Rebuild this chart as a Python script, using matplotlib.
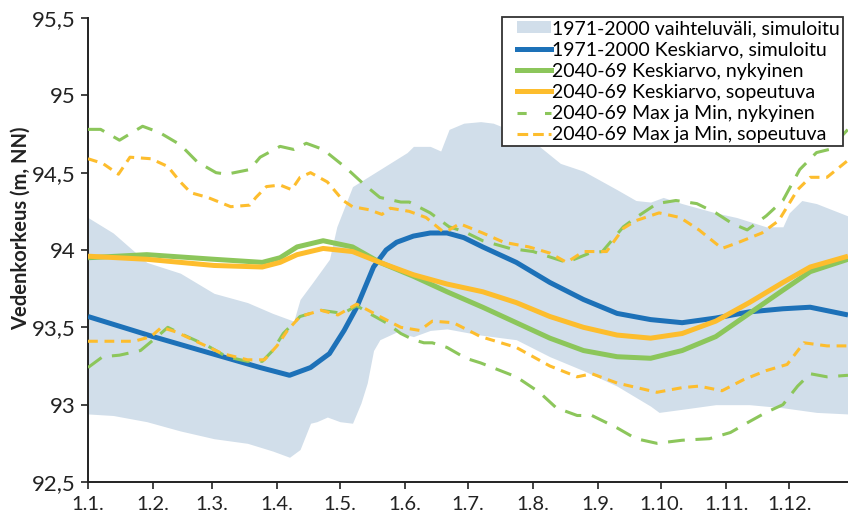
import matplotlib
matplotlib.use("Agg")
import matplotlib.pyplot as plt
from matplotlib.patches import Patch
from matplotlib.lines import Line2D
from matplotlib.legend_handler import HandlerLine2D, HandlerPatch
import numpy as np

plt.rcParams['font.family'] = ['Lato', 'DejaVu Sans']

# day of year (0 = 1.1.) and water level (m, NN)
band_days = [0, 12, 28, 44, 60, 76, 88, 98, 101, 107, 115, 118.5, 126, 139, 152, 155, 163, 168,
             172, 179, 187, 193, 204, 215, 225, 236, 244, 252, 261, 268, 274, 283, 299, 309,
             323, 331, 334, 340, 347, 362]
band_upper = [94.21, 94.11, 93.92, 93.85, 93.72, 93.66, 93.59, 93.54, 93.68, 93.79, 93.94, 94.15,
              94.41, 94.52, 94.63, 94.67, 94.67, 94.64, 94.78, 94.82, 94.83, 94.82, 94.76, 94.67,
              94.56, 94.51, 94.45, 94.39, 94.32, 94.31, 94.34, 94.30, 94.24, 94.21, 94.15, 94.15,
              94.24, 94.32, 94.30, 94.22]
low_days = [0, 12, 28, 44, 60, 76, 88, 96, 101, 106, 109, 114, 120, 126, 130, 133, 136, 139, 147,
            155, 163, 171, 187, 204, 220, 236, 252, 268, 272, 283, 299, 315, 331, 347, 362]
band_lower = [92.94, 92.93, 92.89, 92.83, 92.78, 92.75, 92.70, 92.66, 92.71, 92.88, 92.89, 92.92,
              92.89, 92.88, 93.01, 93.14, 93.35, 93.42, 93.47, 93.44, 93.48, 93.49, 93.45, 93.42,
              93.31, 93.22, 93.12, 92.99, 92.95, 92.97, 93.00, 93.00, 92.98, 92.95, 92.94]

mean_days = [0, 31, 59, 82, 96, 106, 115, 122, 128, 136, 142, 147, 155, 163, 171, 179, 188, 204,
             220, 236, 252, 268, 283, 299, 315, 331, 344, 362]
mean_1971 = [93.57, 93.44, 93.33, 93.24, 93.19, 93.24, 93.33, 93.48, 93.63, 93.89, 94.00, 94.05,
             94.09, 94.11, 94.11, 94.08, 94.02, 93.92, 93.79, 93.68, 93.59, 93.55, 93.53, 93.56,
             93.60, 93.62, 93.63, 93.58]

fut_days = [0, 28, 60, 83, 91.5, 99.6, 112, 126, 139, 155, 171, 188, 204, 220, 236, 252, 268, 283,
            299, 315, 331, 344, 362]
mean_nyk = [93.95, 93.97, 93.94, 93.92, 93.95, 94.02, 94.06, 94.02, 93.92, 93.83, 93.73, 93.63,
            93.53, 93.43, 93.35, 93.31, 93.30, 93.35, 93.44, 93.59, 93.74, 93.86, 93.94]
mean_sop = [93.96, 93.94, 93.90, 93.89, 93.92, 93.97, 94.01, 93.99, 93.92, 93.84, 93.78, 93.73,
            93.66, 93.57, 93.50, 93.45, 93.43, 93.46, 93.54, 93.66, 93.79, 93.89, 93.96]

max_nyk_days = [0, 6, 15, 26, 34, 44, 52, 61, 66, 77, 82, 91.5, 98, 104, 112, 123, 131, 139, 149,
                153, 163, 172, 179, 188, 201, 212, 228, 239, 245, 255, 261, 271, 280, 290, 299,
                307, 314, 323, 331, 339, 347, 353, 362]
max_nyk = [94.78, 94.78, 94.71, 94.80, 94.76, 94.68, 94.57, 94.50, 94.49, 94.52, 94.60, 94.67,
           94.65, 94.69, 94.65, 94.53, 94.43, 94.34, 94.31, 94.31, 94.24, 94.15, 94.12, 94.06,
           94.01, 93.99, 93.92, 93.98, 93.99, 94.15, 94.21, 94.30, 94.32, 94.30, 94.24, 94.17,
           94.13, 94.22, 94.32, 94.52, 94.63, 94.65, 94.78]

max_sop_days = [0, 7, 14.5, 20, 30, 38, 44, 49, 57, 68, 77, 80, 85, 91.5, 97, 101, 106, 114, 121.5,
                126, 134, 140, 144, 153, 161, 169, 172, 177, 188, 198, 210, 220, 228, 236, 247,
                255, 261, 272, 282, 291, 302, 310, 321, 329, 338, 344, 352, 362]
max_sop = [94.59, 94.56, 94.49, 94.60, 94.59, 94.54, 94.44, 94.37, 94.34, 94.28, 94.29, 94.34,
           94.41, 94.42, 94.39, 94.47, 94.50, 94.44, 94.32, 94.28, 94.26, 94.23, 94.27, 94.25,
           94.21, 94.12, 94.13, 94.17, 94.11, 94.05, 94.02, 93.98, 93.92, 93.99, 93.99, 94.14,
           94.19, 94.24, 94.21, 94.13, 94.01, 94.05, 94.11, 94.19, 94.39, 94.47, 94.47, 94.58]

min_nyk_days = [0, 7, 15, 25, 33, 38, 44, 57, 66, 76, 83, 88, 93, 101, 111, 121.5, 128, 134, 142,
                149, 155, 160, 164, 171, 180, 187, 204, 215, 223, 233, 240, 252, 261, 271, 283,
                296, 306, 315, 323, 331, 338, 344, 352, 362]
min_nyk = [93.24, 93.31, 93.32, 93.35, 93.44, 93.50, 93.46, 93.38, 93.31, 93.28, 93.28, 93.35,
           93.46, 93.57, 93.61, 93.59, 93.64, 93.59, 93.53, 93.46, 93.42, 93.40, 93.40, 93.37,
           93.30, 93.27, 93.18, 93.08, 92.98, 92.93, 92.93, 92.85, 92.78, 92.75, 92.77, 92.78,
           92.82, 92.89, 92.95, 93.00, 93.12, 93.20, 93.18, 93.19]

min_sop_days = [0, 12, 22, 30, 35, 42, 53, 64, 76, 84, 90, 95, 101, 111, 119, 128, 139, 149, 158,
                164, 174, 187, 204, 220, 233, 240, 252, 271, 283, 291, 302, 312, 323, 333, 341,
                352, 362]
min_sop = [93.41, 93.41, 93.41, 93.44, 93.50, 93.47, 93.40, 93.33, 93.29, 93.29, 93.38, 93.48,
           93.57, 93.61, 93.58, 93.65, 93.57, 93.50, 93.48, 93.54, 93.53, 93.44, 93.37, 93.25,
           93.18, 93.20, 93.14, 93.08, 93.11, 93.12, 93.09, 93.16, 93.22, 93.26, 93.40, 93.38,
           93.38]

month_starts = [0, 31, 59, 90, 120, 151, 181, 212, 243, 273, 304, 334]
month_labels = ["1.1.", "1.2.", "1.3.", "1.4.", "1.5.", "1.6.", "1.7.", "1.8.", "1.9.",
                "1.10.", "1.11.", "1.12."]
y_ticks = [92.5, 93, 93.5, 94, 94.5, 95, 95.5]
y_labels = ["92,5", "93", "93,5", "94", "94,5", "95", "95,5"]

c_band = "#d1deea"
c_blue = "#1d71b8"
c_green = "#8cc65b"
c_orange = "#fdbd2d"

fig = plt.figure(figsize=(8.48, 5.15), dpi=100)
ax = fig.add_axes([88 / 848, 1 - 482 / 515, 1 - 88 / 848, (482 - 18) / 515])

# band: fill between upper and lower edges on a common day grid
grid = np.linspace(0, 362, 725)
ax.fill_between(grid, np.interp(grid, low_days, band_lower), np.interp(grid, band_days, band_upper),
                color=c_band, lw=0, zorder=1)

ax.plot(mean_days, mean_1971, color=c_blue, lw=3.6, solid_capstyle="butt", zorder=3)
ax.plot(fut_days, mean_nyk, color=c_green, lw=3.6, solid_capstyle="butt", zorder=4)
ax.plot(fut_days, mean_sop, color=c_orange, lw=3.6, solid_capstyle="butt", zorder=5)
ax.plot(max_nyk_days, max_nyk, color=c_green, lw=2.2, dashes=(5.5, 3.5), zorder=6)
ax.plot(min_nyk_days, min_nyk, color=c_green, lw=2.2, dashes=(5.5, 3.5), zorder=6)
ax.plot(max_sop_days, max_sop, color=c_orange, lw=2.2, dashes=(3.2, 2.2), zorder=7)
ax.plot(min_sop_days, min_sop, color=c_orange, lw=2.2, dashes=(3.2, 2.2), zorder=7)

ax.set_xlim(0, 362)
ax.set_ylim(92.5, 95.5)
ax.set_xticks(month_starts)
ax.set_xticklabels(month_labels)
ax.set_yticks(y_ticks)
ax.set_yticklabels(y_labels)
ax.tick_params(axis="x", labelsize=14.5, length=5, width=1.2, direction="out", colors="#222222", pad=5)
ax.tick_params(axis="y", labelsize=16, length=5, width=1.2, direction="out", colors="#222222", pad=4)
for s in ["top", "right"]:
    ax.spines[s].set_visible(False)
for s in ["left", "bottom"]:
    ax.spines[s].set_linewidth(1.4)
    ax.spines[s].set_color("#222222")

ax.set_ylabel("Vedenkorkeus (m, NN)", fontsize=14.5, fontweight="bold", color="#222222")
ax.yaxis.set_label_coords((31 - 88) / 760, (482 - 228) / 464)

handles = [
    Patch(facecolor=c_band, edgecolor="none"),
    Line2D([], [], color=c_blue, lw=3.6),
    Line2D([], [], color=c_green, lw=3.6),
    Line2D([], [], color=c_orange, lw=3.6),
    Line2D([], [], color=c_green, lw=2.2, dashes=(3, 6)),
    Line2D([], [], color=c_orange, lw=2.2, dashes=(3.5, 1.6)),
]
labels = [
    "1971-2000 vaihteluväli, simuloitu",
    "1971-2000 Keskiarvo, simuloitu",
    "2040-69 Keskiarvo, nykyinen",
    "2040-69 Keskiarvo, sopeutuva",
    "2040-69 Max ja Min, nykyinen",
    "2040-69 Max ja Min, sopeutuva",
]
leg = ax.legend(handles, labels, loc="upper left", bbox_to_anchor=((502 - 88) / 760, 1.002),
                fontsize=14, frameon=True, fancybox=False, framealpha=1, borderpad=0.15,
                labelspacing=0.22, handlelength=2.35, handleheight=0.55, handletextpad=0.08,
                borderaxespad=0,
                handler_map={Line2D: HandlerLine2D(xpad=0.64), Patch: HandlerPatch(xpad=0.64)})
leg.get_frame().set_edgecolor("#333333")
leg.get_frame().set_linewidth(1.3)
leg.set_zorder(10)

fig.savefig("out.png", dpi=100)
